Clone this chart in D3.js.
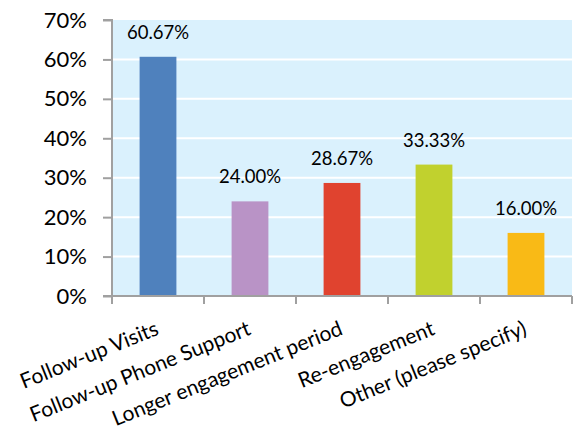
<!DOCTYPE html>
<html>
<head>
<meta charset="utf-8">
<script src="https://cdn.jsdelivr.net/npm/d3@7"></script>
<style>
  html, body { margin: 0; padding: 0; background: #ffffff; }
  svg { display: block; }
  text { font-family: Lato, "Open Sans", sans-serif; fill: #000; }
</style>
</head>
<body>
<svg id="chart" width="574" height="438"></svg>
<script>
const categories = ["Follow-up Visits", "Follow-up Phone Support", "Longer engagement period", "Re-engagement", "Other (please specify)"];
const values = [0.6067, 0.24, 0.2867, 0.3333, 0.16];
const valueLabels = ["60.67%", "24.00%", "28.67%", "33.33%", "16.00%"];
const colors = ["#4f81bd", "#b993c6", "#e0432f", "#c1d12e", "#f9ba16"];
const yTicks = [0, 0.1, 0.2, 0.3, 0.4, 0.5, 0.6, 0.7];

(function () {
const svg = d3.select("#chart");
const pLeft = 112, pRight = 572, pTop = 20, pBottom = 296;

const x = d3.scaleBand().domain(categories).range([pLeft, pRight]).padding(0);
const y = d3.scaleLinear().domain([0, 0.7]).range([pBottom, pTop]);

svg.append("rect")
  .attr("x", pLeft).attr("y", pTop)
  .attr("width", pRight - pLeft).attr("height", pBottom - pTop)
  .attr("fill", "#daf1fd");

svg.append("g").selectAll("line")
  .data(yTicks.filter(t => t > 0 && t < 0.7))
  .join("line")
  .attr("x1", pLeft).attr("x2", pRight)
  .attr("y1", d => y(d)).attr("y2", d => y(d))
  .attr("stroke", "#ffffff").attr("stroke-width", 2);

const bw = x.bandwidth() * 0.4;
svg.append("g").selectAll("rect")
  .data(categories)
  .join("rect")
  .attr("x", d => x(d) + x.bandwidth() / 2 - bw / 2)
  .attr("y", (d, i) => y(values[i]))
  .attr("width", bw)
  .attr("height", (d, i) => y(0) - y(values[i]))
  .attr("fill", (d, i) => colors[i]);

svg.append("g").selectAll("text")
  .data(categories)
  .join("text")
  .attr("x", d => x(d) + x.bandwidth() / 2)
  .attr("y", (d, i) => y(values[i]) - 18)
  .attr("text-anchor", "middle")
  .attr("font-size", 18.5)
  .text((d, i) => valueLabels[i]);

const yAxis = d3.axisLeft(y).tickValues(yTicks).tickFormat(d3.format(".0%")).tickSize(9).tickPadding(16);
const gy = svg.append("g").attr("transform", `translate(${pLeft},0)`).call(yAxis);
gy.select(".domain").attr("stroke", "#a0a0a0").attr("stroke-width", 2).attr("d", `M-9,${pTop}H0V${pBottom}`);
gy.selectAll(".tick line").attr("stroke", "#a0a0a0").attr("stroke-width", 2);
gy.selectAll(".tick text").attr("font-size", 22).attr("font-family", "Lato, sans-serif").attr("fill", "#000");

const xAxis = d3.axisBottom(x).tickSize(0).tickFormat("");
const gx = svg.append("g").attr("transform", `translate(0,${pBottom})`).call(xAxis);
gx.select(".domain").attr("stroke", "#a0a0a0").attr("stroke-width", 2).attr("d", `M${pLeft - 9},0H${pRight}`);
const bounds = categories.map(d => x(d)).concat([pRight]);
gx.selectAll(".bound").data(bounds).join("line").attr("class", "bound")
  .attr("x1", d => d).attr("x2", d => d).attr("y1", 0).attr("y2", 8)
  .attr("stroke", "#a0a0a0").attr("stroke-width", 2);

svg.append("g").selectAll("text")
  .data(categories)
  .join("text")
  .attr("transform", d => `translate(${x(d) + x.bandwidth() / 2 + 2},334) rotate(-22)`)
  .attr("text-anchor", "end")
  .attr("font-size", 21)
  .text(d => d);
})();
</script>
</body>
</html>
